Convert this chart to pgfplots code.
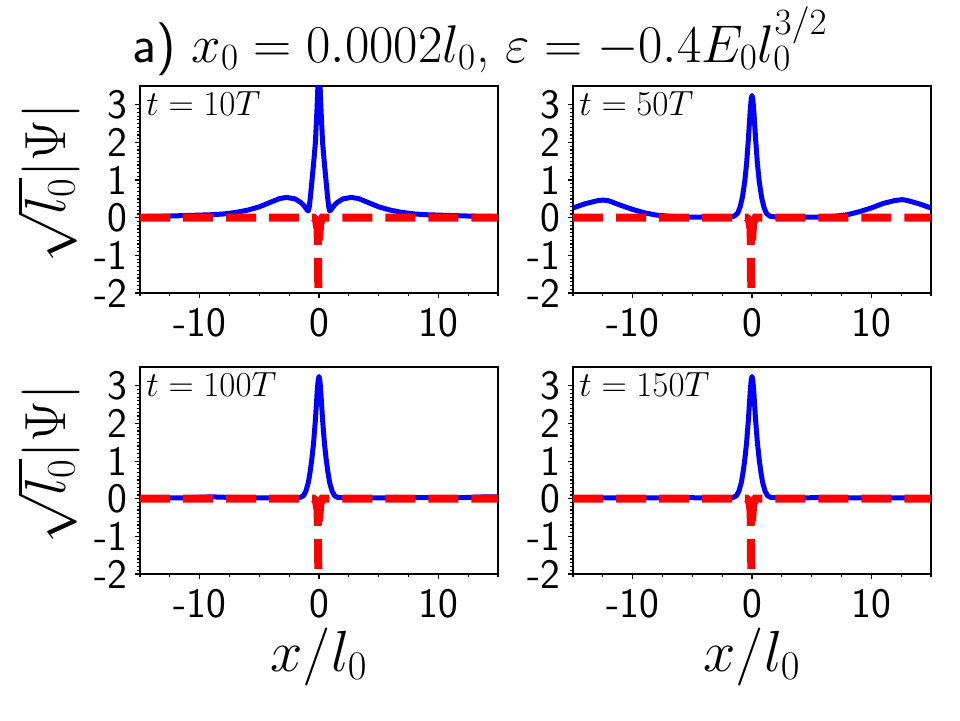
\RequirePackage{fix-cm}
\documentclass[border=0pt]{standalone}
\usepackage{pgfplots}
\pgfplotsset{compat=1.18}
\usepackage{pgfplotstable}

\pgfplotstableread{
x y
-15 0.03
-13 0.04
-11 0.06
-9 0.08
-8 0.1
-7 0.14
-6 0.2
-5 0.29
-4 0.42
-3.3 0.51
-2.7 0.54
-2 0.5
-1.5 0.4
-1.2 0.3
-1.0 0.21
-0.9 0.18
-0.82 0.28
-0.72 0.55
-0.6 0.95
-0.45 1.45
-0.3 2.0
-0.15 3.0
-0.07 3.7
0 4.3
0.07 3.7
0.15 3.0
0.3 2.0
0.45 1.45
0.6 0.95
0.72 0.55
0.82 0.28
0.9 0.18
1.0 0.21
1.2 0.3
1.5 0.4
2 0.5
2.7 0.54
3.3 0.51
4 0.42
5 0.29
6 0.2
7 0.14
8 0.1
9 0.08
11 0.06
13 0.04
15 0.03
}\blueA

\pgfplotstableread{
x y
-15 0.26
-14 0.37
-13 0.45
-12.5 0.47
-12 0.45
-11 0.33
-10 0.22
-9 0.13
-8 0.07
-7 0.04
-6 0.02
-4 0.015
-2 0.02
-1.5 0.04
-1.2 0.12
-1.0 0.28
-0.8 0.55
-0.6 0.98
-0.45 1.45
-0.3 2.1
-0.15 2.85
-0.07 3.15
0 3.25
0.07 3.15
0.15 2.85
0.3 2.1
0.45 1.45
0.6 0.98
0.8 0.55
1.0 0.28
1.2 0.12
1.5 0.04
2 0.02
4 0.015
6 0.02
7 0.04
8 0.08
9 0.16
10 0.26
11 0.38
12 0.46
12.6 0.48
13 0.46
14 0.37
15 0.26
}\blueB

\pgfplotstableread{
x y
-15 0.02
-12 0.02
-10 0.04
-9 0.05
-8 0.04
-6 0.02
-3 0.02
-1.6 0.03
-1.3 0.08
-1.1 0.2
-0.9 0.42
-0.75 0.7
-0.6 1.05
-0.45 1.5
-0.3 2.1
-0.15 2.85
-0.07 3.15
0 3.25
0.07 3.15
0.15 2.85
0.3 2.1
0.45 1.5
0.6 1.05
0.75 0.7
0.9 0.42
1.1 0.2
1.3 0.08
1.6 0.03
3 0.02
6 0.02
9 0.03
12 0.03
14 0.05
15 0.05
}\blueC

\pgfplotstableread{
x y
-15 0.03
-12 0.02
-9 0.02
-6 0.03
-3 0.02
-1.6 0.03
-1.3 0.08
-1.1 0.2
-0.9 0.42
-0.75 0.7
-0.6 1.05
-0.45 1.5
-0.3 2.1
-0.15 2.85
-0.07 3.15
0 3.25
0.07 3.15
0.15 2.85
0.3 2.1
0.45 1.5
0.6 1.05
0.75 0.7
0.9 0.42
1.1 0.2
1.3 0.08
1.6 0.03
3 0.02
6 0.03
9 0.02
12 0.02
15 0.03
}\blueD

\pgfplotstableread{
x y
-15 0
-0.45 0
-0.25 -0.05
-0.12 -0.3
-0.07 -1
-0.05 -3
}\redL

\pgfplotstableread{
x y
0.0 -0.6
0.1 -0.15
0.3 0
15 0
}\redR

\definecolor{mplblue}{RGB}{0,0,255}
\definecolor{mplred}{RGB}{255,0,0}

\pgfplotsset{
  panel/.style={
    scale only axis, width=179pt, height=103.5pt,
    anchor=south west,
    xmin=-15, xmax=15, ymin=-2, ymax=3.5,
    xtick={-10,0,10}, xticklabels={-10,0,10},
    minor xtick={-15,-12.5,-7.5,-5,-2.5,2.5,5,7.5,12.5,15},
    ytick={-2,-1,0,1,2,3}, yticklabels={-2,-1,0,1,2,3},
    minor y tick num=9,
    tick align=outside, xtick pos=bottom, ytick pos=left,
    major tick length=2.5pt, minor tick length=1.6pt,
    every tick/.style={black, line width=0.6pt},
    axis line style={line width=0.75pt},
    tick label style={font=\fontsize{21}{24}\selectfont\sffamily, inner sep=0pt},
    xticklabel style={yshift=-5pt},
    yticklabel style={xshift=-3.5pt},
    clip=true,
    label style={font=\fontsize{29}{32}\selectfont},
    ylabel style={at={(axis description cs:-0.255,0.53)}, anchor=center},
    xlabel style={at={(axis description cs:0.5,-0.40)}, anchor=center},
  },
  bl/.style={color=mplblue, line width=2.5pt, line join=round, no markers},
  rd/.style={color=mplred, line width=4pt, dash pattern=on 15pt off 6.5pt, no markers},
}

\newcommand{\tlab}[1]{\node[anchor=north west, inner sep=0pt, font=\fontsize{17.5}{20}\selectfont] at (rel axis cs:0.017,0.973) {#1};}

\begin{document}
\begin{tikzpicture}[x=1pt,y=1pt]
\useasboundingbox (0,0) rectangle (480,360);

\node[anchor=base, font=\fontsize{26.5}{30}\selectfont] at (240,329)
  {\textsf{a)} $x_0 = 0.0002l_0$, $\varepsilon = -0.4E_0l_0^{3/2}$};

\begin{axis}[panel, at={(70pt,213.5pt)}, ylabel={$\sqrt{l_0}|\Psi|$}]
\addplot[bl] table {\blueA};
\addplot[rd] table {\redL};
\addplot[rd] table {\redR};
\tlab{$t=10T$}
\end{axis}

\begin{axis}[panel, at={(286.5pt,213.5pt)}]
\addplot[bl] table {\blueB};
\addplot[rd] table {\redL};
\addplot[rd] table {\redR};
\tlab{$t=50T$}
\end{axis}

\begin{axis}[panel, at={(70pt,73pt)}, ylabel={$\sqrt{l_0}|\Psi|$}, xlabel={$x/l_0$}]
\addplot[bl] table {\blueC};
\addplot[rd] table {\redL};
\addplot[rd] table {\redR};
\tlab{$t=100T$}
\end{axis}

\begin{axis}[panel, at={(286.5pt,73pt)}, xlabel={$x/l_0$}]
\addplot[bl] table {\blueD};
\addplot[rd] table {\redL};
\addplot[rd] table {\redR};
\tlab{$t=150T$}
\end{axis}
\end{tikzpicture}
\end{document}
